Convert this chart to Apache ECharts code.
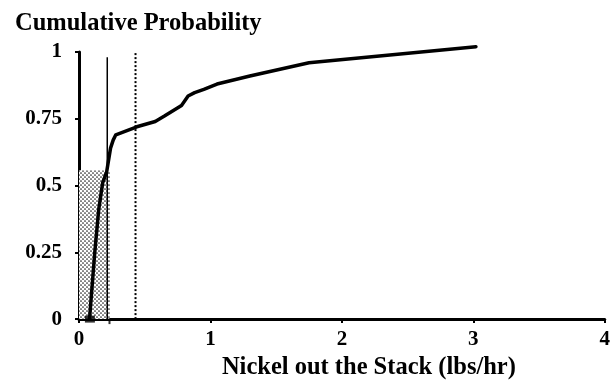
<!DOCTYPE html>
<html>
<head>
<meta charset="utf-8">
<script src="https://cdn.jsdelivr.net/npm/echarts@6/dist/echarts.min.js"></script>
<style>html,body{margin:0;padding:0;background:#fff;}#c{width:613px;height:385px;}</style>
</head>
<body>
<div id="c"></div>
<script>
// Data
const cdfX = [0.08, 0.12, 0.15, 0.18, 0.21, 0.24, 0.26, 0.28, 0.44, 0.58, 0.65, 0.78, 0.83, 0.88, 0.95, 1.05, 1.3, 1.75, 3.02];
const cdfY = [0, 0.25, 0.41, 0.51, 0.55, 0.64, 0.67, 0.69, 0.72, 0.74, 0.76, 0.80, 0.835, 0.848, 0.86, 0.88, 0.91, 0.96, 1.02];
const xTicks = [0, 1, 2, 3, 4];
const yTicks = [0, 0.25, 0.5, 0.75, 1];
const shadeX = [0, 0.235];
const shadeY = [0, 0.557];
const solidLineX = [0.215, 0.215];
const solidLineY = [0, 0.98];
const dottedLineX = [0.43, 0.43];
const dottedLineY = [0, 1.0];
const markerX = [0.083];
const markerY = [0];
const smallTickX = [0.232];
const smallTickY = [0];

const zip = (a, b) => a.map((v, i) => [v, b[i]]);

// dotted fill pattern
const pc = document.createElement('canvas');
pc.width = 4; pc.height = 4;
const pctx = pc.getContext('2d');
pctx.fillStyle = '#ffffff';
pctx.fillRect(0, 0, 4, 4);
pctx.fillStyle = '#222222';
pctx.beginPath(); pctx.arc(1, 1, 0.85, 0, Math.PI * 2); pctx.fill();
pctx.beginPath(); pctx.arc(3, 3, 0.85, 0, Math.PI * 2); pctx.fill();

const font = '"Liberation Serif", "Times New Roman", serif';
const chart = echarts.init(document.getElementById('c'), null, {renderer: 'canvas'});
chart.setOption({
  animation: false,
  backgroundColor: '#fff',
  title: {
    text: 'Cumulative Probability',
    left: 10, top: 6,
    textStyle: {fontFamily: font, fontWeight: 'bold', fontSize: 24.5, color: '#000'}
  },
  grid: {left: 79, right: 6, top: 52, bottom: 64, containLabel: false},
  xAxis: {
    type: 'value', min: xTicks[0], max: xTicks[xTicks.length - 1], interval: 1,
    name: 'Nickel out the Stack (lbs/hr)',
    nameLocation: 'middle', nameGap: 35,
    nameTextStyle: {fontFamily: font, fontWeight: 'bold', fontSize: 24.5, color: '#000', padding: [0, 0, 0, 54]},
    axisLine: {show: true, lineStyle: {color: '#000', width: 3}},
    axisTick: {show: true, length: 4, lineStyle: {color: '#000', width: 2}},
    axisLabel: {margin: 10, fontFamily: font, fontWeight: 'bold', fontSize: 21, color: '#000',
      formatter: v => xTicks.includes(v) ? String(v) : ''},
    splitLine: {show: false}
  },
  yAxis: {
    type: 'value', min: yTicks[0], max: yTicks[yTicks.length - 1], interval: 0.25,
    axisLine: {show: true, lineStyle: {color: '#000', width: 3}},
    axisTick: {show: true, length: 4, lineStyle: {color: '#000', width: 2}},
    axisLabel: {margin: 17, fontFamily: font, fontWeight: 'bold', fontSize: 21, color: '#000',
      formatter: v => yTicks.includes(v) ? String(v) : ''},
    splitLine: {show: false}
  },
  series: [
    {
      type: 'line', data: zip(solidLineX, solidLineY), symbol: 'none', z: 3,
      lineStyle: {color: '#000', width: 1.5},
      markArea: {
        silent: true,
        itemStyle: {color: {image: pc, repeat: 'repeat'}, borderWidth: 0},
        data: [[{coord: [shadeX[0], shadeY[0]]}, {coord: [shadeX[1], shadeY[1]]}]]
      }
    },
    {
      type: 'line', data: zip(dottedLineX, dottedLineY), symbol: 'none', z: 3,
      lineStyle: {color: '#000', width: 2, type: 'dotted'}
    },
    {
      type: 'line', data: zip(cdfX, cdfY), symbol: 'none', clip: false, z: 5,
      lineStyle: {color: '#000', width: 3.5, join: 'round', cap: 'round'}
    },
    {
      type: 'scatter', data: zip(markerX, markerY), symbol: 'rect', symbolSize: [10, 7], z: 6,
      itemStyle: {color: '#000'}
    },
    {
      type: 'scatter', data: zip(smallTickX, smallTickY), symbol: 'rect', symbolSize: [2, 6],
      symbolOffset: [0, 2], z: 6, itemStyle: {color: '#000'}
    }
  ]
});
</script>
</body>
</html>
